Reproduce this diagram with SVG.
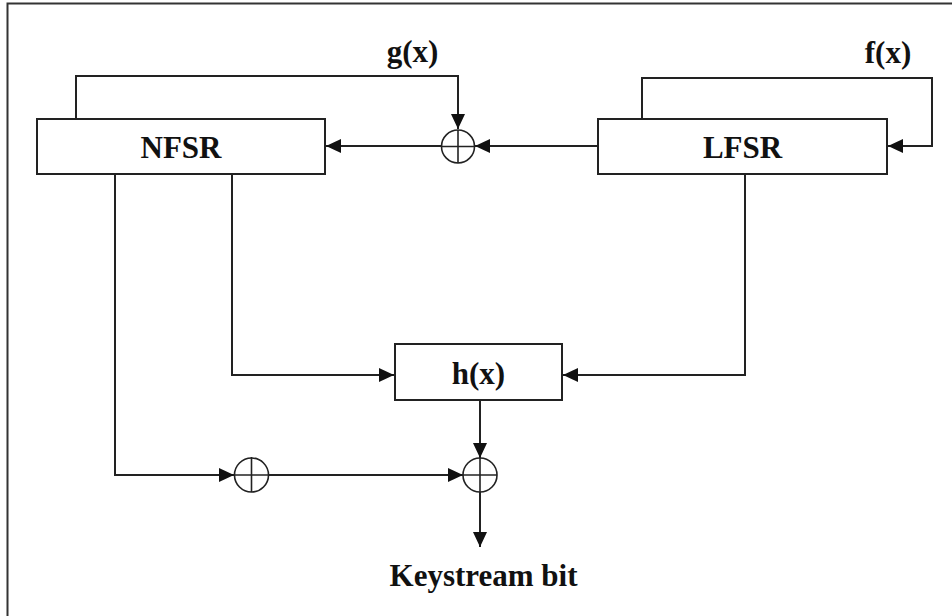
<svg xmlns="http://www.w3.org/2000/svg" width="952" height="616" viewBox="0 0 952 616">
  <defs>
    <style>
      .frame { fill: none; stroke: #333; stroke-width: 2; }
      .box { fill: #fff; stroke: #222; stroke-width: 2; }
      .wire { fill: none; stroke: #222; stroke-width: 2; }
      .xor circle { fill: #fff; stroke: #222; stroke-width: 1.6; }
      .xor line { stroke: #222; stroke-width: 1.6; }
      .lbl { font-family: "Liberation Serif", "Times New Roman", serif; font-weight: bold; font-size: 31px; fill: #111; text-anchor: middle; }
    </style>
    <marker id="arrow" markerUnits="userSpaceOnUse" viewBox="0 0 15 14" refX="15" refY="7" markerWidth="15" markerHeight="14" orient="auto">
      <path d="M0,0 L15,7 L0,14 z" fill="#111"/>
    </marker>
  </defs>

  <rect width="952" height="616" fill="#fff"/>
  <!-- outer frame (right and bottom edges run off the canvas) -->
  <path class="frame" d="M7.5,616 V3.5 H952"/>

  <g id="connectors">
    <!-- g(x) feedback from NFSR into the top XOR -->
    <polyline class="wire" points="76,119 76,76 458,76 458,129" marker-end="url(#arrow)"/>
    <!-- LFSR into top XOR -->
    <line class="wire" x1="598" y1="146" x2="475" y2="146" marker-end="url(#arrow)"/>
    <!-- top XOR into NFSR -->
    <line class="wire" x1="442" y1="146" x2="326" y2="146" marker-end="url(#arrow)"/>
    <!-- f(x) feedback around LFSR -->
    <polyline class="wire" points="642,119 642,78 932,78 932,146 888,146" marker-end="url(#arrow)"/>
    <!-- NFSR tap into h(x) -->
    <polyline class="wire" points="232,174 232,375 394,375" marker-end="url(#arrow)"/>
    <!-- LFSR tap into h(x) -->
    <polyline class="wire" points="745,174 745,375 563,375" marker-end="url(#arrow)"/>
    <!-- NFSR tap into lower-left XOR -->
    <polyline class="wire" points="115,174 115,475 234,475" marker-end="url(#arrow)"/>
    <!-- lower-left XOR into output XOR -->
    <line class="wire" x1="268" y1="475" x2="463" y2="475" marker-end="url(#arrow)"/>
    <!-- h(x) into output XOR -->
    <line class="wire" x1="480" y1="400" x2="480" y2="458" marker-end="url(#arrow)"/>
    <!-- output XOR to keystream -->
    <line class="wire" x1="480" y1="492" x2="480" y2="547" marker-end="url(#arrow)"/>
  </g>

  <g id="nfsr">
    <rect class="box" x="37" y="119" width="288" height="55"/>
    <text class="lbl" x="181" y="157.5">NFSR</text>
  </g>

  <g id="lfsr">
    <rect class="box" x="598" y="119" width="289" height="55"/>
    <text class="lbl" x="742.5" y="157.5">LFSR</text>
  </g>

  <g id="hx">
    <rect class="box" x="395" y="344" width="167" height="56"/>
    <text class="lbl" x="478.5" y="383.5">h(x)</text>
  </g>

  <g id="xor-top" class="xor">
    <circle cx="458" cy="146.5" r="16.5"/>
    <line x1="441.5" y1="146.5" x2="474.5" y2="146.5"/>
    <line x1="458" y1="130" x2="458" y2="163"/>
  </g>

  <g id="xor-left" class="xor">
    <circle cx="251.5" cy="475" r="17"/>
    <line x1="234.5" y1="475" x2="268.5" y2="475"/>
    <line x1="251.5" y1="457" x2="251.5" y2="492"/>
  </g>

  <g id="xor-out" class="xor">
    <circle cx="480" cy="475" r="17"/>
    <line x1="463" y1="475" x2="497" y2="475"/>
    <line x1="480" y1="458" x2="480" y2="492"/>
  </g>

  <g id="label-gx">
    <text class="lbl" x="412.5" y="62">g(x)</text>
  </g>
  <g id="label-fx">
    <text class="lbl" x="888" y="63">f(x)</text>
  </g>
  <g id="label-keystream">
    <text class="lbl" x="483.5" y="585.5">Keystream bit</text>
  </g>
</svg>
